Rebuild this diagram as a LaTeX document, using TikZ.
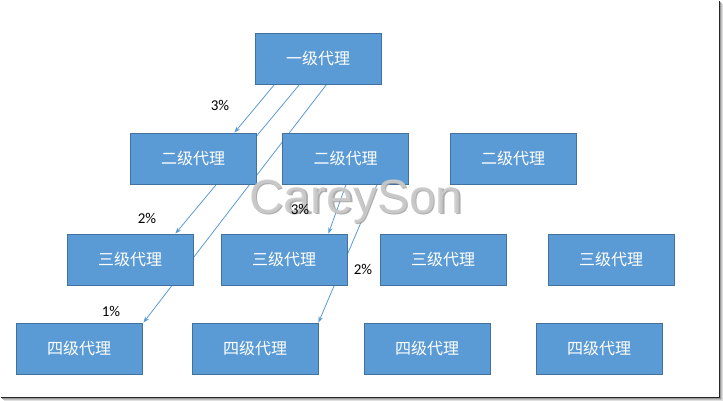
\documentclass[tikz,border=0pt]{standalone}
\usepackage{fontspec}
\newfontfamily\cjk{Noto Sans CJK SC}
\newfontfamily\lblfont{Carlito}
\newfontfamily\wmfont{Liberation Sans}
\usetikzlibrary{arrows.meta}
\pgfdeclarelayer{framelayer}
\pgfdeclarelayer{linklayer}
\pgfdeclarelayer{frontlayer}
\pgfsetlayers{framelayer,linklayer,main,frontlayer}
\definecolor{boxfill}{HTML}{5B9BD5}
\definecolor{boxedge}{HTML}{41719C}
\definecolor{linkcol}{HTML}{5B9BD5}
\definecolor{wmcol}{HTML}{CBCBCB}
\definecolor{wmshade}{HTML}{9A9A9A}
\tikzset{
  agent/.style={draw=boxedge, line width=0.9pt, fill=boxfill, minimum width=126pt, minimum height=51pt, inner sep=0pt, text=white, font=\cjk\fontsize{16}{16}\selectfont},
  link/.style={draw=linkcol, line width=0.8pt},
  linkarrow/.style={link, -{Stealth[length=6pt,width=4.5pt]}},
  pct/.style={font=\lblfont\fontsize{15}{15}\selectfont, text=black, inner sep=0pt},
  wm/.style={font=\wmfont\fontsize{48}{48}\selectfont, inner sep=0pt, anchor=base}
}
\begin{document}
\begin{tikzpicture}[x=1pt,y=-1pt]
\useasboundingbox (0,0) rectangle (723,401);
% frame shadow
\begin{pgfonlayer}{framelayer}
\fill[gray!25] (4,4) rectangle (723,401);
\fill[gray!50] (3,3) rectangle (722,400);
\fill[gray!80] (2,2) rectangle (721,399);
\fill[black!85] (1,1) rectangle (720,398);
\fill[white] (0,0) rectangle (719,397);
\end{pgfonlayer}
% boxes
\node[agent] (a1) at (318,58.5) {一级代理};
\node[agent] (b1) at (193,158.5) {二级代理};
\node[agent] (b2) at (345.5,158.5) {二级代理};
\node[agent] (b3) at (513,158.5) {二级代理};
\node[agent] (c1) at (130,259.5) {三级代理};
\node[agent] (c2) at (284,259.5) {三级代理};
\node[agent] (c3) at (443,259.5) {三级代理};
\node[agent] (c4) at (611,259.5) {三级代理};
\node[agent] (d1) at (79,348.5) {四级代理};
\node[agent] (d2) at (255,348.5) {四级代理};
\node[agent] (d3) at (427,348.5) {四级代理};
\node[agent] (d4) at (599,348.5) {四级代理};
% connectors (behind boxes)
\begin{pgfonlayer}{linklayer}
\draw[linkarrow] ([xshift=20pt]a1.south west) -- ([xshift=-22pt]b1.north east);
\draw[linkarrow] ([xshift=45pt]a1.south west) -- ([xshift=-18pt]c1.north east);
\draw[linkarrow] ([xshift=72pt]a1.south west) -- ([xshift=1pt]d1.north east);
\draw[linkarrow] ([xshift=64pt]b2.south west) -- ([xshift=-19pt]c2.north east);
\draw[linkarrow] ([xshift=95pt]b2.south west) -- ([xshift=0pt]d2.north east);
\end{pgfonlayer}
% watermark
\begin{pgfonlayer}{frontlayer}
\node[wm, text=wmshade, opacity=0.8] (wms) at (357.5,214.5) {CareySon};
\node[wm, text=wmcol, opacity=0.9] (wmm) at (356,213) {CareySon};
\node[pct] (p1) at (220,105) {3\%};
\node[pct] (p2) at (147,218) {2\%};
\node[pct] (p3) at (111,311) {1\%};
\node[pct] (p4) at (300,209) {3\%};
\node[pct] (p5) at (363,269) {2\%};
\end{pgfonlayer}
\end{tikzpicture}
\end{document}
